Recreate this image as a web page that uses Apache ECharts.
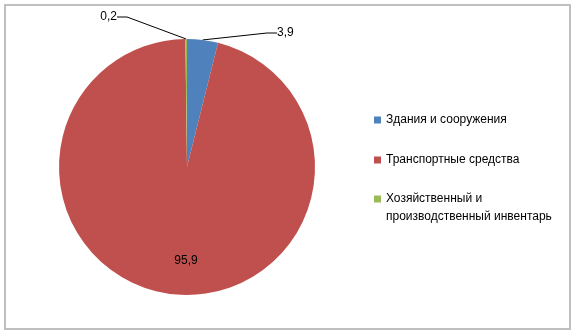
<!DOCTYPE html>
<html>
<head>
<meta charset="utf-8">
<script src="https://cdn.jsdelivr.net/npm/echarts@6/dist/echarts.min.js"></script>
<style>
  html, body { margin: 0; padding: 0; background: #fff; }
  #chart { width: 576px; height: 336px; }
</style>
</head>
<body>
<div id="chart"></div>
<script>
// данные диаграммы
const categories = ['Здания и сооружения', 'Транспортные средства', 'Хозяйственный и производственный инвентарь'];
const shares = [3.9, 95.9, 0.2];
const colors = ['#4F81BD', '#C0504D', '#9BBB59'];

const chart = echarts.init(document.getElementById('chart'));

const fontFamily = '"Liberation Sans", Arial, sans-serif';

const option = {
    animation: false,
    backgroundColor: '#fff',
    color: colors,
    graphic: [{
        type: 'rect',
        shape: { x: 5, y: 5, width: 565, height: 324 },
        style: { fill: null, stroke: '#bfbfbf', lineWidth: 2 },
        silent: true
    }],
    legend: [{
        orient: 'vertical',
        left: 374,
        top: 113,
        padding: 0,
        itemWidth: 7,
        itemHeight: 7,
        itemGap: 26,
        icon: 'rect',
        data: categories.slice(0, 2),
        textStyle: { fontFamily: fontFamily, fontSize: 12, color: '#000', lineHeight: 14 }
    }, {
        // длинная подпись в две строки, маркер напротив первой строки
        orient: 'vertical',
        left: 374,
        top: 172,
        padding: 0,
        itemWidth: 7,
        itemHeight: 7,
        icon: 'rect',
        data: categories.slice(2),
        formatter: () => '\nХозяйственный и\nпроизводственный инвентарь',
        textStyle: { fontFamily: fontFamily, fontSize: 12, color: '#000', lineHeight: 18 }
    }],
    series: [{
        type: 'pie',
        center: [187, 167],
        radius: 128,
        startAngle: 90,
        clockwise: true,
        data: categories.map((name, i) => ({ name: name, value: shares[i] })),
        itemStyle: { borderWidth: 0 },
        label: {
            show: true,
            position: 'outside',
            fontFamily: fontFamily,
            fontSize: 12,
            color: '#000',
            formatter: p => String(p.value).replace('.', ',')
        },
        labelLine: {
            show: true,
            length: 10,
            length2: 10,
            lineStyle: { color: '#000', width: 1 }
        },
        labelLayout: function (params) {
            if (params.dataIndex === 0) {
                return { x: 277, y: 33, align: 'left', verticalAlign: 'middle' };
            }
            if (params.dataIndex === 1) {
                return { x: 186, y: 261, align: 'center', verticalAlign: 'middle' };
            }
            return { x: 117, y: 17, align: 'right', verticalAlign: 'middle' };
        }
    }]
};

// большой сектор — подпись внутри
option.series[0].data[1].label = { position: 'inside' };
option.series[0].data[1].labelLine = { show: false };

chart.setOption(option);
</script>
</body>
</html>
